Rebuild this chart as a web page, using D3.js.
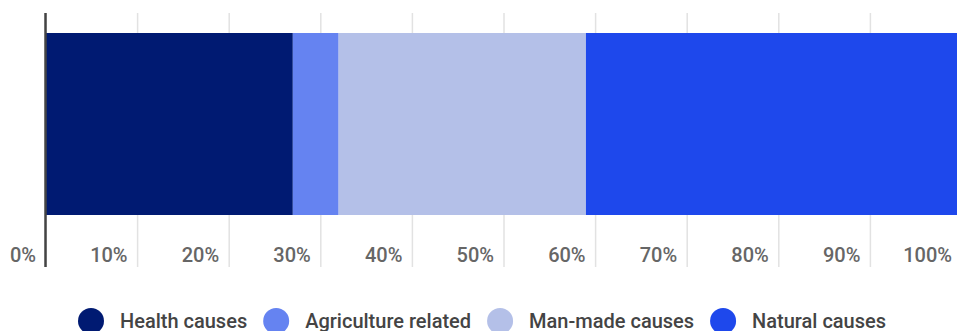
<!DOCTYPE html>
<html lang="en">
<head>
    <meta charset="UTF-8">
    <title>Causes share</title>
    <style>
        body { margin: 0; background: #fff; }
        svg { display: block; font-family: Roboto, sans-serif; }
    </style>
</head>
<body>
    <script src="https://d3js.org/d3.v7.min.js"></script>
    <script>
        // data
        const categories = ["Health causes", "Agriculture related", "Man-made causes", "Natural causes"];
        const values = [27, 5, 27, 41];
        const colors = ["#001a72", "#6583f1", "#b4c0e8", "#1e48ec"];
        const tickValues = [0, 10, 20, 30, 40, 50, 60, 70, 80, 90, 100];

        const width = 957,
            height = 331;

        const svg = d3.select('body').append('svg')
            .attr('width', width).attr('height', height);

        const x = d3.scaleLinear().domain([0, 100]).range([45.5, 961.5]);
        const y = d3.scaleBand().domain(['all']).range([33, 215]);

        const gridTop = 13, gridBottom = 267;

        // grid + tick labels
        const axis = d3.axisBottom(x)
            .tickValues(tickValues)
            .tickSize(-(gridBottom - gridTop))
            .tickFormat(d => d + '%');

        const ag = svg.append('g')
            .attr('transform', `translate(0,${gridBottom})`)
            .call(axis);
        ag.select('.domain').remove();
        ag.selectAll('.tick line')
            .attr('stroke', '#e2e2e2')
            .attr('stroke-width', 1.5);
        ag.selectAll('.tick text')
            .attr('y', -5)
            .attr('x', -10)
            .attr('dy', 0)
            .attr('text-anchor', 'end')
            .attr('fill', '#666')
            .style('font-size', '20px')
            .style('font-weight', 500)
            .style('font-family', 'Roboto, sans-serif');

        // stacked segments
        let acc = 0;
        const segs = values.map((v, i) => {
            const s = { name: categories[i], x0: acc, x1: acc + v, color: colors[i] };
            acc += v;
            return s;
        });

        svg.append('g').selectAll('rect')
            .data(segs)
            .enter().append('rect')
            .attr('x', d => x(d.x0))
            .attr('width', d => x(d.x1) - x(d.x0))
            .attr('y', y('all'))
            .attr('height', y.bandwidth())
            .attr('fill', d => d.color);

        // zero line
        svg.append('line')
            .attr('x1', x(0)).attr('x2', x(0))
            .attr('y1', gridTop).attr('y2', gridBottom)
            .attr('stroke', '#444')
            .attr('stroke-width', 2.5);

        // legend
        const legend = svg.append('g');
        let lx = 78;
        const ly = 321;
        categories.forEach((c, i) => {
            legend.append('circle')
                .attr('cx', lx + 13).attr('cy', ly)
                .attr('r', 13)
                .attr('fill', colors[i]);
            const t = legend.append('text')
                .attr('x', lx + 26 + 16)
                .attr('y', ly + 6.5)
                .attr('fill', '#444')
                .style('font-size', '20px')
                .style('font-weight', 500)
                .text(c);
            lx = lx + 26 + 16 + t.node().getComputedTextLength() + 16;
        });
    </script>
</body>
</html>
